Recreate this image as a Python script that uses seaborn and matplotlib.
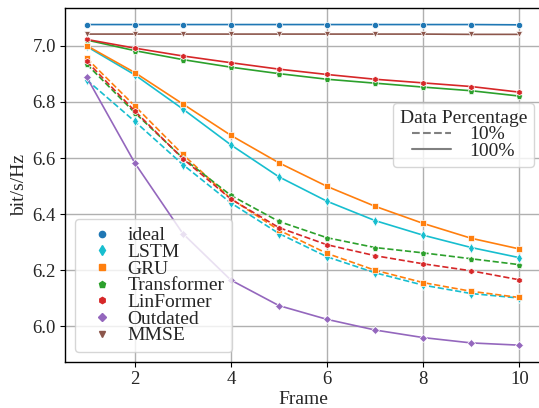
import numpy as np
import pandas as pd
import seaborn as sns
import matplotlib
matplotlib.use("Agg")
import matplotlib.pyplot as plt
from matplotlib.lines import Line2D

frames = [1, 2, 3, 4, 5, 6, 7, 8, 9, 10]

ideal = [7.076, 7.076, 7.076, 7.076, 7.076, 7.076, 7.076, 7.076, 7.076, 7.075]
mmse = [7.042, 7.042, 7.042, 7.042, 7.042, 7.042, 7.042, 7.042, 7.041, 7.041]
outdated = [6.889, 6.583, 6.331, 6.165, 6.074, 6.025, 5.987, 5.960, 5.941, 5.933]

lstm_100 = [6.998, 6.897, 6.775, 6.647, 6.533, 6.446, 6.377, 6.325, 6.281, 6.245]
gru_100 = [7.001, 6.905, 6.793, 6.681, 6.583, 6.499, 6.428, 6.367, 6.314, 6.276]
transformer_100 = [7.021, 6.983, 6.951, 6.924, 6.901, 6.881, 6.867, 6.853, 6.840, 6.821]
linformer_100 = [7.023, 6.992, 6.964, 6.940, 6.917, 6.898, 6.881, 6.868, 6.855, 6.835]

lstm_10 = [6.879, 6.731, 6.577, 6.440, 6.331, 6.248, 6.191, 6.147, 6.117, 6.101]
gru_10 = [6.956, 6.786, 6.613, 6.455, 6.343, 6.260, 6.200, 6.156, 6.125, 6.103]
transformer_10 = [6.935, 6.762, 6.600, 6.467, 6.374, 6.316, 6.281, 6.262, 6.241, 6.220]
linformer_10 = [6.945, 6.768, 6.598, 6.454, 6.352, 6.291, 6.252, 6.223, 6.198, 6.166]

model_names = ["ideal", "LSTM", "GRU", "Transformer", "LinFormer", "Outdated", "MMSE"]
colors = {"ideal": "#1f77b4", "LSTM": "#17becf", "GRU": "#ff7f0e",
          "Transformer": "#2ca02c", "LinFormer": "#d62728",
          "Outdated": "#9467bd", "MMSE": "#8c564b"}
markers = {"ideal": "o", "LSTM": "d", "GRU": "s", "Transformer": "p",
           "LinFormer": "h", "Outdated": "D", "MMSE": "v"}
msizes = {"ideal": 4.5, "LSTM": 5, "GRU": 4.5, "Transformer": 4.5,
          "LinFormer": 4.5, "Outdated": 4.5, "MMSE": 4.5}

series = [
    ("ideal", "100%", ideal),
    ("LSTM", "10%", lstm_10), ("GRU", "10%", gru_10),
    ("Transformer", "10%", transformer_10), ("LinFormer", "10%", linformer_10),
    ("LSTM", "100%", lstm_100), ("GRU", "100%", gru_100),
    ("Transformer", "100%", transformer_100), ("LinFormer", "100%", linformer_100),
    ("Outdated", "100%", outdated),
    ("MMSE", "100%", mmse),
]

rows = []
for m, p, vals in series:
    for f, v in zip(frames, vals):
        rows.append({"Frame": f, "rate": v, "Model": m, "Percentage": p})
df = pd.DataFrame(rows)

sns.set_style("white")
plt.rcParams["font.family"] = ["Liberation Serif", "DejaVu Serif"]
plt.rcParams["mathtext.fontset"] = "stix"

fig = plt.figure(figsize=(5.39, 4.08), dpi=100)
ax = fig.add_axes([65 / 539, (408 - 362) / 408, (541 - 65) / 539, (362 - 8) / 408])

for m, p, _ in series:
    sub = df[(df.Model == m) & (df.Percentage == p)]
    sns.lineplot(data=sub, x="Frame", y="rate", ax=ax, color=colors[m],
                 marker=markers[m], markersize=msizes[m], markeredgewidth=0.5,
                 linestyle="--" if p == "10%" else "-", linewidth=1.2,
                 legend=False)

ax.set_xlim(0.55, 10.45)
ax.set_ylim(5.873, 7.135)
ax.set_xticks([2, 4, 6, 8, 10])
ax.set_yticks([6.0, 6.2, 6.4, 6.6, 6.8, 7.0])
ax.set_yticklabels(["6.0", "6.2", "6.4", "6.6", "6.8", "7.0"])
ax.grid(True, color="#b0b0b0", linewidth=1.0)
ax.set_axisbelow(True)
for s in ax.spines.values():
    s.set_color("black")
    s.set_linewidth(1.0)
ax.tick_params(axis="both", which="major", labelsize=13.5, length=3.5,
               width=0.8, color="black", left=True, bottom=True, pad=3)
ax.set_xlabel("Frame", fontsize=14, labelpad=2)
ax.set_ylabel("bit/s/Hz", fontsize=14, labelpad=3)

handles1 = [Line2D([], [], color=colors[m], marker=markers[m], linestyle="none",
                   markersize=msizes[m]) for m in model_names]
leg1 = ax.legend(handles1, model_names, loc="lower left",
                 bbox_to_anchor=(0.021, 0.028), borderaxespad=0, fontsize=14,
                 labelspacing=-0.05, handletextpad=0.3, borderpad=0.4,
                 framealpha=0.8, edgecolor="#cccccc")
ax.add_artist(leg1)

handles2 = [Line2D([], [], color="gray", linestyle="--", linewidth=1.5),
            Line2D([], [], color="gray", linestyle="-", linewidth=1.5)]
leg2 = ax.legend(handles2, ["10%", "100%"], title="Data Percentage",
                 loc="upper right", bbox_to_anchor=(0.985, 0.732),
                 borderaxespad=0, fontsize=14, title_fontsize=14,
                 labelspacing=-0.05, handletextpad=0.9, handlelength=2.0,
                 borderpad=0.35, alignment="center",
                 framealpha=0.8, edgecolor="#cccccc")

fig.savefig("out.png", dpi=100)
